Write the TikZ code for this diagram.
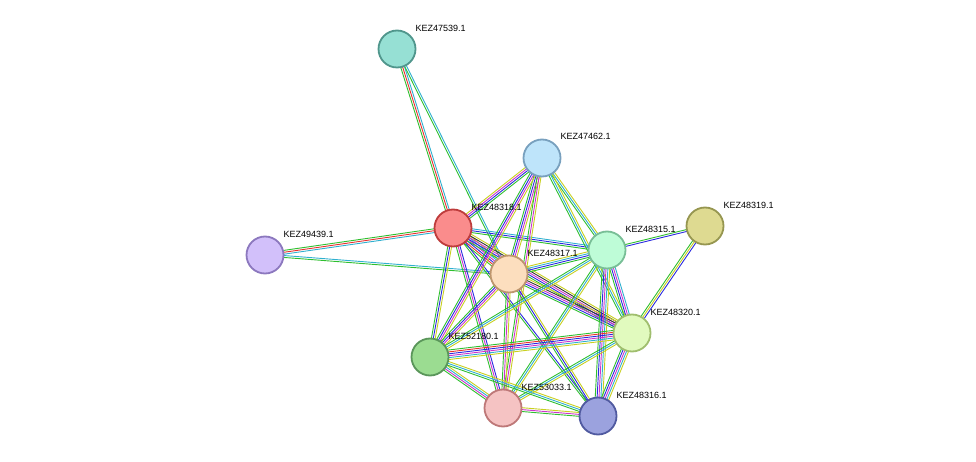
\documentclass[tikz,border=0pt]{standalone}
\usepackage{fontspec}
\setmainfont{Liberation Sans}
\usetikzlibrary{calc}

\definecolor{cnb}{HTML}{2FBF2F}
\definecolor{cfu}{HTML}{E8312F}
\definecolor{cco}{HTML}{2A2AE0}
\definecolor{cdb}{HTML}{30B0D0}
\definecolor{cex}{HTML}{CC33CC}
\definecolor{ctm}{HTML}{C8D020}
\definecolor{cxp}{HTML}{333333}

\tikzset{
  prot/.style = {circle, minimum size = 37pt, inner sep = 0pt, line width = 1.8pt},
  lbl/.style = {anchor = west, inner sep = 0.5pt, font = \fontsize{9}{10}\selectfont}
}

% several thin parallel lines between two proteins
\newcommand{\pedge}[3]{%
  \foreach \c [count=\n] in {#3} {\global\let\nlines\n}
  \foreach \c [count=\i] in {#3} {
    \pgfmathsetmacro{\k}{(\i-1)*1.9-(\nlines-1)*0.95}
    \draw[\c, line width = 0.9pt] ($(#1)!\k pt!90:(#2)$) -- ($(#2)!\k pt!-90:(#1)$);
  }}

\begin{document}
\begin{tikzpicture}[x = 1pt, y = -1pt]
\useasboundingbox (0,0) rectangle (976,462);

\coordinate (k539) at (397,49);
\coordinate (k462) at (542,158);
\coordinate (k318) at (453,228);
\coordinate (k439) at (265,255);
\coordinate (k317) at (509,274);
\coordinate (k315) at (607,250);
\coordinate (k319) at (705,226);
\coordinate (k320) at (632,333);
\coordinate (k180) at (430,357);
\coordinate (k033) at (503,408);
\coordinate (k316) at (598,416);

\pedge{k539}{k318}{cnb,cfu,cdb}
\pedge{k539}{k317}{cnb,cdb}
\pedge{k318}{k439}{cnb,cfu,cdb}
\pedge{k439}{k317}{cnb,cdb}
\pedge{k318}{k462}{cnb,cco,cex,ctm}
\pedge{k318}{k317}{cnb,cfu,cco,cex,cdb,ctm}
\pedge{k318}{k315}{cnb,cco,cdb}
\pedge{k318}{k320}{cnb,cco,cex,cxp,ctm}
\pedge{k318}{k180}{cnb,cco,ctm}
\pedge{k318}{k033}{cnb,cex,cco}
\pedge{k318}{k316}{cnb,cco}
\pedge{k462}{k317}{cnb,cco,cex,ctm}
\pedge{k462}{k315}{cnb,cdb,ctm}
\pedge{k462}{k320}{cnb,cdb,ctm}
\pedge{k462}{k180}{cnb,cco,cex,ctm}
\pedge{k462}{k033}{cnb,cex,ctm}
\pedge{k315}{k319}{cco,cnb}
\pedge{k319}{k320}{cnb,ctm,cco}
\pedge{k317}{k315}{cnb,cco,cdb,ctm}
\pedge{k317}{k320}{cnb,cco,cex,cxp,ctm}
\pedge{k317}{k180}{cnb,cco,cex,ctm}
\pedge{k317}{k033}{cnb,cex,ctm}
\pedge{k317}{k316}{cnb,cco,ctm}
\pedge{k315}{k320}{cnb,cco,cex,cdb}
\pedge{k315}{k180}{cnb,cdb,ctm}
\pedge{k315}{k033}{cnb,cdb,ctm}
\pedge{k315}{k316}{cnb,cco,cex,cdb,ctm}
\pedge{k320}{k180}{cnb,cfu,cco,cex,cdb,ctm}
\pedge{k320}{k033}{cnb,cdb,ctm}
\pedge{k320}{k316}{cnb,cco,cex,cdb,ctm}
\pedge{k180}{k033}{cnb,cex,cdb,ctm}
\pedge{k180}{k316}{cnb,cdb,ctm}
\pedge{k033}{k316}{cnb,cex,ctm}

\node[prot, draw = {rgb,255:red,80;green,150;blue,140}, fill = {rgb,255:red,150;green,224;blue,212}] (n539) at (k539) {};
\node[prot, draw = {rgb,255:red,120;green,160;blue,190}, fill = {rgb,255:red,190;green,228;blue,250}] (n462) at (k462) {};
\node[prot, draw = {rgb,255:red,190;green,60;blue,60}, fill = {rgb,255:red,250;green,140;blue,140}] (n318) at (k318) {};
\node[prot, draw = {rgb,255:red,140;green,120;blue,190}, fill = {rgb,255:red,210;green,192;blue,250}] (n439) at (k439) {};
\node[prot, draw = {rgb,255:red,190;green,150;blue,110}, fill = {rgb,255:red,252;green,222;blue,190}] (n317) at (k317) {};
\node[prot, draw = {rgb,255:red,120;green,190;blue,150}, fill = {rgb,255:red,190;green,252;blue,215}] (n315) at (k315) {};
\node[prot, draw = {rgb,255:red,150;green,150;blue,80}, fill = {rgb,255:red,222;green,218;blue,145}] (n319) at (k319) {};
\node[prot, draw = {rgb,255:red,160;green,190;blue,110}, fill = {rgb,255:red,225;green,250;blue,190}] (n320) at (k320) {};
\node[prot, draw = {rgb,255:red,90;green,150;blue,90}, fill = {rgb,255:red,155;green,220;blue,145}] (n180) at (k180) {};
\node[prot, draw = {rgb,255:red,190;green,120;blue,120}, fill = {rgb,255:red,245;green,195;blue,195}] (n033) at (k033) {};
\node[prot, draw = {rgb,255:red,80;green,90;blue,160}, fill = {rgb,255:red,155;green,162;blue,222}] (n316) at (k316) {};

\node[lbl] at ($(k539)+(18,-21)$) {KEZ47539.1};
\node[lbl] at ($(k462)+(18,-22)$) {KEZ47462.1};
\node[lbl] at ($(k318)+(18,-21)$) {KEZ48318.1};
\node[lbl] at ($(k439)+(18,-21)$) {KEZ49439.1};
\node[lbl] at ($(k317)+(18,-21)$) {KEZ48317.1};
\node[lbl] at ($(k315)+(18,-21)$) {KEZ48315.1};
\node[lbl] at ($(k319)+(18,-21)$) {KEZ48319.1};
\node[lbl] at ($(k320)+(18,-21)$) {KEZ48320.1};
\node[lbl] at ($(k180)+(18,-21)$) {KEZ52180.1};
\node[lbl] at ($(k033)+(18,-21)$) {KEZ53033.1};
\node[lbl] at ($(k316)+(18,-21)$) {KEZ48316.1};
\end{tikzpicture}
\end{document}
